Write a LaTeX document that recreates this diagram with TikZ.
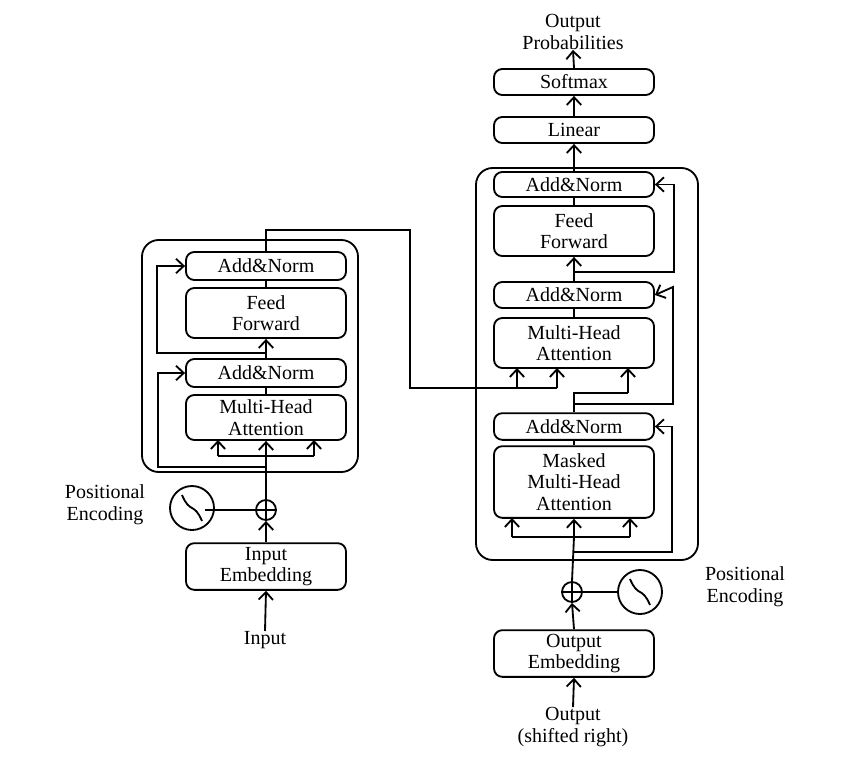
\documentclass[tikz,border=0pt]{standalone}
\usepackage{fontspec}
\setmainfont{Liberation Serif}
\usetikzlibrary{arrows.meta,calc}
\tikzset{
  >={Straight Barb[length=4.6pt,width=8.6pt,line width=1.1pt]},
  blk/.style={draw,line width=1.1pt,rounded corners=5pt,minimum width=96pt,align=center,inner sep=1pt},
  ln/.style={line width=1.1pt},
  txt/.style={align=center,inner sep=0pt}
}
\newcommand\sineCircle[1]{
  \draw[ln] (#1) circle (13.2pt);
  \draw[ln] ($(#1)+(-10,-13)$) .. controls ($(#1)+(-2,6)$) and ($(#1)+(2,-6)$) .. ($(#1)+(10,13)$);
}
\begin{document}
\begin{tikzpicture}[x=0.6pt,y=-0.6pt,font=\fontsize{12}{13}\selectfont]
  \useasboundingbox (0,0) rectangle (850,765);
  % encoder
  \draw[ln,rounded corners=10pt] (142,240) rectangle (358,472);
  \node[blk,minimum height=16.8pt] (eAN2) at (266,266) {Add\&Norm};
  \node[blk,minimum height=30pt] (eFF) at (266,313) {Feed\\Forward};
  \node[blk,minimum height=16.8pt] (eAN1) at (266,373) {Add\&Norm};
  \node[blk,minimum height=27pt] (eMHA) at (266,417.5) {Multi-Head\\Attention};
  \node[draw,ln,circle,minimum size=12pt,inner sep=0pt] (ePlus) at (266,510) {};
  \draw[ln] (ePlus.north) -- (ePlus.south) (ePlus.west) -- (ePlus.east);
  \coordinate (eSin) at (192,508);
  \sineCircle{eSin}
  \draw[ln] (205,510) -- (ePlus.west);
  \node[txt] (ePos) at (105,505) {Positional\\Encoding};
  \node[blk,minimum height=28pt] (eEmb) at (266,566.5) {Input\\Embedding};
  \node[txt] (eIn) at (265,640) {Input};
  \draw[ln,->] (eIn.north) -- (eEmb.south);
  \draw[ln,->] (eEmb.north) -- (ePlus.south);
  \draw[ln] (ePlus.north) -- (266,456);
  \draw[ln,->] (266,456) -- (eMHA.south);
  \draw[ln,->] (218,456) -- (218,440);
  \draw[ln,->] (314,456) -- (314,440);
  \draw[ln] (218,456) -- (314,456);
  \draw[ln,->] (266,467) -- (158,467) -- (158,373) -- (eAN1.west);
  \draw[ln] (eMHA) -- (eAN1);
  \draw[ln,->] (eAN1.north) -- (eFF.south);
  \draw[ln,->] (266,353) -- (157,353) -- (157,266) -- (eAN2.west);
  \draw[ln] (eFF) -- (eAN2);
  \draw[ln] (eAN2.north) -- (266,230) -- (410,230) -- (410,388) -- (557,388);
  % decoder
  \draw[ln,rounded corners=10pt] (476,168) rectangle (698,560);
  \node[blk,minimum height=15pt] (dAN3) at (574,184.5) {Add\&Norm};
  \node[blk,minimum height=30pt] (dFF) at (574,231) {Feed\\Forward};
  \node[blk,minimum height=15.6pt] (dAN2) at (574,295) {Add\&Norm};
  \node[blk,minimum height=30pt] (dMHA) at (574,343) {Multi-Head\\Attention};
  \node[blk,minimum height=16pt] (dAN1) at (574,426.5) {Add\&Norm};
  \node[blk,minimum height=43pt] (dMMHA) at (574,482) {Masked\\Multi-Head\\Attention};
  \node[blk,minimum height=15.6pt] (dLin) at (574,130) {Linear};
  \node[blk,minimum height=15.6pt] (dSoft) at (574,82) {Softmax};
  \node[txt] (dProb) at (573,32) {Output\\Probabilities};
  \node[draw,ln,circle,minimum size=12pt,inner sep=0pt] (dPlus) at (572,592) {};
  \draw[ln] (dPlus.north) -- (dPlus.south) (dPlus.west) -- (dPlus.east);
  \coordinate (dSin) at (640,592);
  \sineCircle{dSin}
  \draw[ln] (dPlus.east) -- (618,592);
  \node[txt] (dPos) at (745,587) {Positional\\Encoding};
  \node[blk,minimum height=28pt] (dEmb) at (574,653.5) {Output\\Embedding};
  \node[txt] (dOut) at (573,727) {Output\\(shifted right)};
  \draw[ln,->] (dOut.north) -- (dEmb.south);
  \draw[ln,->] (dEmb.north) -- (dPlus.south);
  \draw[ln] (dPlus.north) -- (574,537);
  \draw[ln,->] (574,537) -- (dMMHA.south);
  \draw[ln] (512,537) -- (630,537);
  \draw[ln,->] (512,537) -- (512,518);
  \draw[ln,->] (630,537) -- (630,518);
  \draw[ln,->] (574,552) -- (672,552) -- (672,426.5) -- (dAN1.east);
  \draw[ln] (dMMHA) -- (dAN1);
  \draw[ln] (dAN1.north) -- (574,393) -- (628,393);
  \draw[ln,->] (628,393) -- (628,368);
  \draw[ln,->] (574,404) -- (673,404) -- (673,287) -- (dAN2.east);
  \draw[ln,->] (517,388) -- (517,368);
  \draw[ln,->] (557,388) -- (557,368);
  \draw[ln] (dMHA) -- (dAN2);
  \draw[ln,->] (dAN2.north) -- (dFF.south);
  \draw[ln,->] (574,272) -- (674,272) -- (674,184.5) -- (dAN3.east);
  \draw[ln] (dFF) -- (dAN3);
  \draw[ln,->] (dAN3.north) -- (dLin.south);
  \draw[ln,->] (dLin.north) -- (dSoft.south);
  \draw[ln,->] (dSoft.north) -- (dProb.south);
\end{tikzpicture}
\end{document}
